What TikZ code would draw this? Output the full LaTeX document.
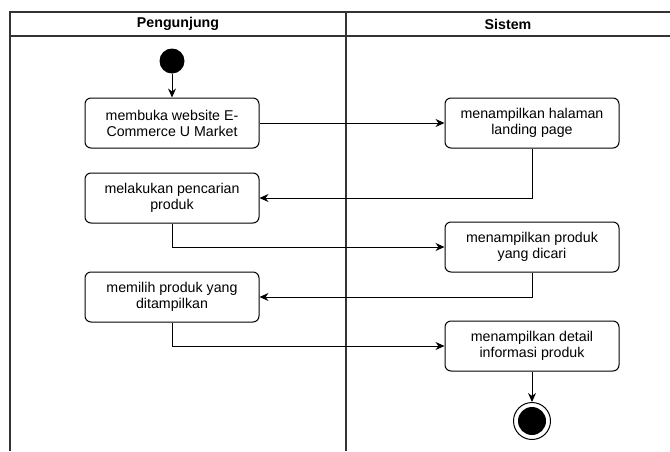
\documentclass[tikz,border=0pt]{standalone}
\usepackage{fontspec}
\setmainfont{Liberation Sans}
\usetikzlibrary{arrows.meta}
\begin{document}
\begin{tikzpicture}[x=1pt,y=-1pt,
  lane/.style={line width=1.2pt, draw=black!80},
  act/.style={draw, line width=1pt, rounded corners=6pt, minimum width=174pt, minimum height=50pt,
    align=center, inner sep=2pt, font=\fontsize{14.2}{16}\selectfont},
  flow/.style={line width=1pt, -{Stealth[length=9pt,width=8pt]}},
  hdr/.style={font=\fontsize{14.2}{16}\selectfont\bfseries}]
\useasboundingbox (0,0) rectangle (670,451);
% swimlane frame
\draw[lane] (670,12) -- (10,12) -- (10,451);
\draw[lane] (10,36) -- (670,36);
\draw[lane] (346,12) -- (346,451);
\node[hdr] (h1) at (178,24) {Pengunjung};
\node[hdr] (h2) at (508,24) {Sistem};
% start and end
\node[circle, fill=black, minimum size=25pt, inner sep=0pt] (start) at (172,61) {};
\node[circle, draw, line width=1pt, minimum size=37pt, inner sep=0pt] (stop) at (532,421) {};
\node[circle, fill=black, minimum size=28pt, inner sep=0pt] (stopin) at (532,421) {};
% activities
\node[act] (a1) at (172,123) {membuka website E-\\Commerce U Market};
\node[act] (a2) at (172,198) {melakukan pencarian\\produk};
\node[act] (a3) at (172,297) {memilih produk yang\\ditampilkan};
\node[act] (b1) at (532,123) {menampilkan halaman\\landing page};
\node[act] (b2) at (532,247) {menampilkan produk\\yang dicari};
\node[act] (b3) at (532,346) {menampilkan detail\\informasi produk};
% flows
\draw[flow] (start) -- (a1);
\draw[flow] (a1) -- (b1);
\draw[flow] (b1.south) |- (a2.east);
\draw[flow] (a2.south) |- (b2.west);
\draw[flow] (b2.south) |- (a3.east);
\draw[flow] (a3.south) |- (b3.west);
\draw[flow] (b3) -- (stop);
\end{tikzpicture}
\end{document}
